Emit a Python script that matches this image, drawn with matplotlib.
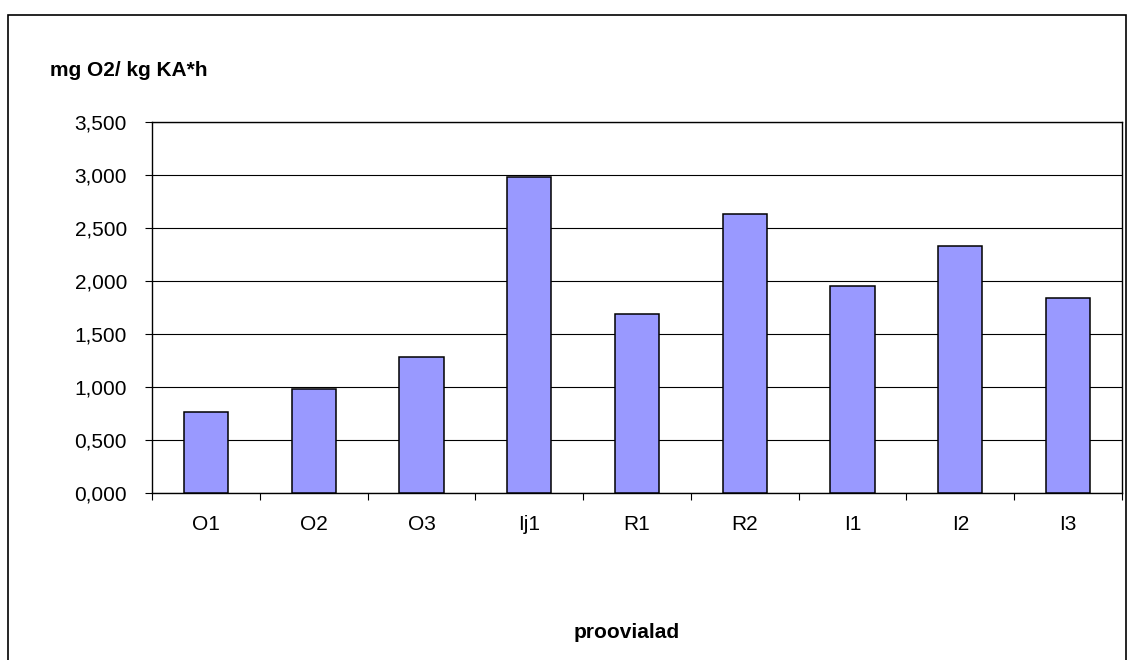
import matplotlib
matplotlib.use("Agg")
import matplotlib.pyplot as plt
import matplotlib.patches as patches
from matplotlib.ticker import FuncFormatter, FixedLocator
import numpy as np

categories = ["O1", "O2", "O3", "Ij1", "R1", "R2", "I1", "I2", "I3"]
values = [0.761, 0.978, 1.283, 2.985, 1.69, 2.632, 1.956, 2.333, 1.837]
y_ticks = [0, 0.5, 1.0, 1.5, 2.0, 2.5, 3.0, 3.5]

plt.rcParams['font.family'] = ['Liberation Sans', 'DejaVu Sans']

W, H = 1127, 660
fig = plt.figure(figsize=(W / 100, H / 100), dpi=100)

# plot area in pixels: x 152..1122, y 122..493
ax = fig.add_axes([152 / W, (H - 493) / H, 970 / W, 371 / H])

x = np.arange(len(categories))
ax.bar(x, values, width=0.41, color="#9999FF", edgecolor="black", linewidth=1.1, zorder=3)

ax.set_xlim(-0.5, len(categories) - 0.5)
ax.set_ylim(0, 3.5)
ax.set_yticks(y_ticks)
ax.yaxis.set_major_formatter(FuncFormatter(lambda v, p: f"{v:.3f}".replace(".", ",")))
ax.grid(axis="y", color="black", linewidth=0.8, zorder=1)

ax.set_xticks(x)
ax.set_xticklabels(categories)
ax.xaxis.set_minor_locator(FixedLocator(np.arange(-0.5, len(categories), 1.0)))
ax.tick_params(axis="x", which="major", length=0, pad=16, labelsize=15)
ax.tick_params(axis="x", which="minor", length=5, width=0.8, direction="out")
ax.tick_params(axis="y", length=5, width=0.8, direction="out", pad=13, labelsize=15)

for s in ax.spines.values():
    s.set_color("black")
    s.set_linewidth(1.0)

fig.text(50 / W, 1 - 70 / H, "mg O2/ kg KA*h", ha="left", va="center",
         fontsize=15, fontweight="bold")
fig.text(627 / W, 1 - 632 / H, "proovialad", ha="center", va="center",
         fontsize=15, fontweight="bold")

# outer chart border (cut off at the bottom)
border = patches.Rectangle((8 / W, -0.1), (1126 - 8) / W, (H - 15) / H + 0.1,
                           transform=fig.transFigure, fill=False,
                           edgecolor="black", linewidth=1.2, clip_on=False)
fig.patches.append(border)

fig.savefig("out.png", dpi=100)
